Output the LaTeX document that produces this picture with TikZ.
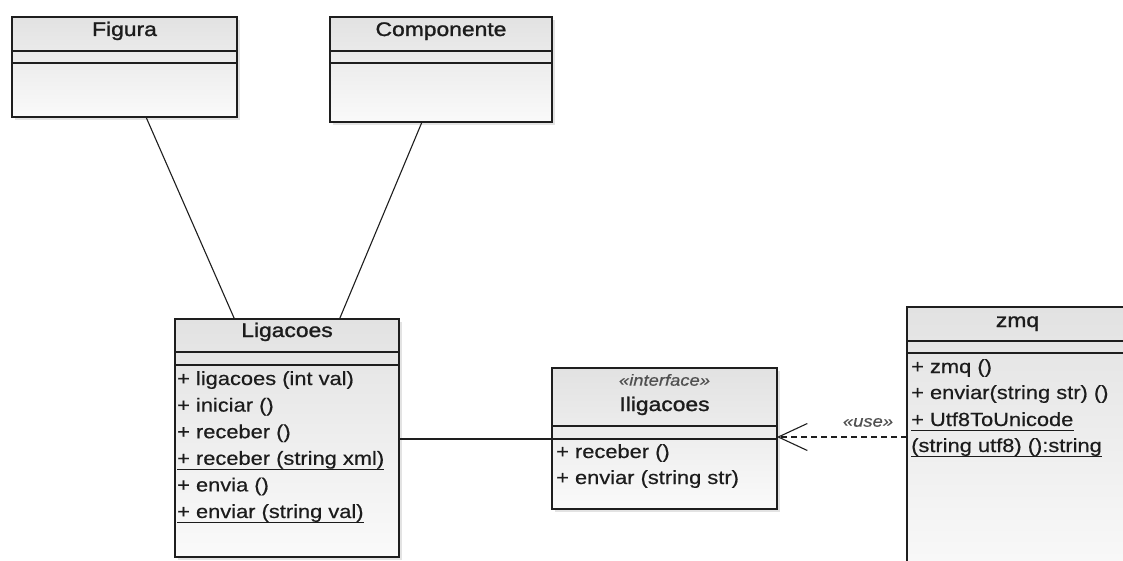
\documentclass[tikz,border=0pt]{standalone}
\usepackage{fontspec}
\setmainfont{Liberation Sans}[FakeStretch=1.15,FakeBold=0.5]
\newfontfamily\titlefont{Liberation Sans}[FakeStretch=1.16,FakeBold=1.3]
\usetikzlibrary{arrows.meta,shadows}
\definecolor{boxline}{HTML}{1E1E1E}
\definecolor{boxtop}{HTML}{E2E2E2}
\definecolor{boxbot}{HTML}{FAFAFA}
\definecolor{txt}{HTML}{1C1C1C}
\definecolor{stereo}{HTML}{505050}
\begin{document}
\begin{tikzpicture}[x=1pt,y=-1pt,
  umlbox/.style={draw=boxline, line width=1.6pt, rectangle, anchor=north west,
    inner sep=0pt, outer sep=0pt, top color=boxtop, bottom color=boxbot,
    drop shadow={shadow xshift=3pt, shadow yshift=-3pt, opacity=0.22}},
  sepline/.style={draw=boxline, line width=1.5pt},
  title/.style={font=\titlefont\fontsize{19.7}{23}\selectfont, text=txt, anchor=base, inner sep=0pt},
  member/.style={font=\fontsize{19}{23}\selectfont, text=txt, anchor=base west, inner sep=0pt},
  stereotype/.style={font=\fontsize{16}{19}\selectfont\itshape, text=stereo, inner sep=0pt},
  uline/.style={draw=txt, line width=1pt},
  assoc/.style={draw=boxline, line width=1.1pt},
  usedep/.style={draw=boxline, line width=1.1pt, dash pattern=on 6pt off 4pt,
    -{Straight Barb[length=29pt,width=27pt]}}]
\useasboundingbox[fill=white] (0,0) rectangle (1123,561);

% ---------- Figura ----------
\node[umlbox, minimum width=225pt, minimum height=100pt] (fig) at (12,17) {};
\draw[sepline] (12,51) -- (237,51);
\draw[sepline] (12,63) -- (237,63);
\node[title] (figt) at (124.5,36) {Figura};

% ---------- Componente ----------
\node[umlbox, minimum width=222pt, minimum height=105pt] (comp) at (330,17) {};
\draw[sepline] (330,51) -- (552,51);
\draw[sepline] (330,63) -- (552,63);
\node[title] (compt) at (441,36) {Componente};

% ---------- Ligacoes ----------
\node[umlbox, minimum width=224pt, minimum height=238pt] (lig) at (175,319) {};
\draw[sepline] (175,352) -- (399,352);
\draw[sepline] (175,365) -- (399,365);
\node[title] (ligt) at (287,337) {Ligacoes};
\node[member] (lig1) at (177,385) {+ ligacoes (int val)};
\node[member] (lig2) at (177,411.6) {+ iniciar ()};
\node[member] (lig3) at (177,438.2) {+ receber ()};
\node[member] (lig4) at (177,464.8) {+ receber (string xml)};
\node[member] (lig5) at (177,491.4) {+ envia ()};
\node[member] (lig6) at (177,518) {+ enviar (string val)};
\draw[uline] ([yshift=-4.5pt]lig4.base west) -- ([yshift=-4.5pt]lig4.base east);
\draw[uline] ([yshift=-4.5pt]lig6.base west) -- ([yshift=-4.5pt]lig6.base east);

% ---------- Iligacoes ----------
\node[umlbox, minimum width=225pt, minimum height=141pt] (ili) at (552,368) {};
\draw[sepline] (552,426) -- (777,426);
\draw[sepline] (552,439) -- (777,439);
\node[stereotype, anchor=base] (ilis) at (664.5,385.7) {«interface»};
\node[title] (ilit) at (664.5,411) {Iligacoes};
\node[member] (ili1) at (556,458) {+ receber ()};
\node[member] (ili2) at (556,484) {+ enviar (string str)};

% ---------- zmq ----------
\node[umlbox, minimum width=221pt, minimum height=275pt] (zmq) at (907,307) {};
\draw[sepline] (907,341) -- (1128,341);
\draw[sepline] (907,353) -- (1128,353);
\node[title] (zmqt) at (1017.5,327) {zmq};
\node[member] (zmq1) at (911,373) {+ zmq ()};
\node[member] (zmq2) at (911,399) {+ enviar(string str) ()};
\node[member] (zmq3) at (911,426) {+ Utf8ToUnicode};
\node[member] (zmq4) at (911,452) {(string utf8) ():string};
\draw[uline] ([yshift=-4.5pt]zmq3.base west) -- ([yshift=-4.5pt]zmq3.base east);
\draw[uline] ([yshift=-4.5pt]zmq4.base west) -- ([yshift=-4.5pt]zmq4.base east);

% ---------- connectors ----------
\draw[assoc] ([xshift=134pt]fig.south west) -- ([xshift=59.5pt]lig.north west);
\draw[assoc] ([xshift=92pt]comp.south west) -- ([xshift=164.5pt]lig.north west);
\draw[assoc] ([yshift=-120pt]lig.north east) -- ([yshift=-71pt]ili.north west);
\draw[usedep] ([yshift=-130pt]zmq.north west) --
  node[stereotype, pos=0.3, anchor=base, yshift=10.3pt] (uselbl) {«use»}
  ([yshift=-69pt]ili.north east);
\end{tikzpicture}
\end{document}
